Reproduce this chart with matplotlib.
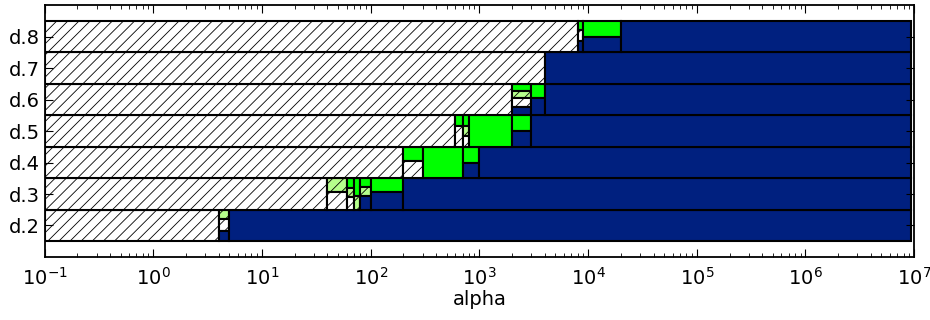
import matplotlib

matplotlib.use("Agg")
import matplotlib.pyplot as plt

# rows of the chart, bottom to top
ROW_LABELS = ["d.2", "d.3", "d.4", "d.5", "d.6", "d.7", "d.8"]
ROW_VALUES = [0.2, 0.3, 0.4, 0.5, 0.6, 0.7, 0.8]

X_START = 0.1
X_END = 9.3e6

# alpha boundaries per row (columns lie between consecutive edges)
EDGES = [
    [X_START, 4, 5, X_END],
    [X_START, 40, 60, 70, 80, 100, 200, X_END],
    [X_START, 200, 300, 700, 1000, X_END],
    [X_START, 600, 700, 800, 2000, 3000, X_END],
    [X_START, 2000, 3000, 4000, X_END],
    [X_START, 4000, X_END],
    [X_START, 8000, 9000, 20000, X_END],
]

# share of each column, stacked top -> bottom: green, light green, hatched, navy
GREEN = [
    [0, 0, 0],
    [0, 0, 0.3, 0.55, 0.28, 0.45, 0],
    [0, 0.45, 1, 0.5, 0],
    [0, 0.35, 0.35, 1, 0.5, 0],
    [0, 0.24, 0.46, 0],
    [0, 0],
    [0, 0.3, 0.5, 0],
]
LIGHT = [
    [0, 0.3, 0],
    [0, 0.45, 0.3, 0.45, 0.28, 0, 0],
    [0, 0, 0, 0, 0],
    [0, 0, 0.3, 0, 0, 0],
    [0, 0.22, 0, 0],
    [0, 0],
    [0, 0, 0, 0],
]
WHITE = [
    [1, 0.38, 0],
    [1, 0.55, 0.4, 0, 0, 0, 0],
    [1, 0.55, 0, 0, 0],
    [1, 0.65, 0.35, 0, 0, 0],
    [1, 0.27, 0, 0],
    [1, 0],
    [1, 0.33, 0, 0],
]
NAVY = [
    [0, 0.32, 1],
    [0, 0, 0, 0, 0.44, 0.55, 1],
    [0, 0, 0, 0.5, 1],
    [0, 0, 0, 0, 0.5, 1],
    [0, 0.27, 0.54, 1],
    [0, 1],
    [0, 0.37, 0.5, 1],
]

ROW_H = 0.1
STYLES = [  # (shares, facecolor, hatch) from the top of a column down
    (GREEN, "#00ff00", None),
    (LIGHT, "#b6ff8c", "///"),
    (WHITE, "white", "///"),
    (NAVY, "#00207f", None),
]

plt.rcParams["hatch.linewidth"] = 0.6
fig = plt.figure(figsize=(9.3, 3.2), dpi=100)
ax = fig.add_axes([0.048, 0.197, 0.935, 0.787])

for r, d in enumerate(ROW_VALUES):
    edges = EDGES[r]
    for c in range(len(edges) - 1):
        left, right = edges[c], edges[c + 1]
        top = d + ROW_H / 2
        for shares, color, hatch in STYLES:
            h = shares[r][c] * ROW_H
            if h <= 0:
                continue
            ax.bar(left, h, width=right - left, bottom=top - h, align="edge",
                   color=color, edgecolor="black", linewidth=1.5, hatch=hatch)
            top -= h

ax.set_xscale("log")
ax.set_xlim(0.1, 1e7)
ax.set_ylim(0.1, 0.9)
ax.set_yticks(ROW_VALUES)
ax.set_yticklabels(ROW_LABELS)
ax.set_xlabel("alpha", fontsize=14, labelpad=1)
ax.tick_params(which="both", direction="in", top=True, right=True, labelsize=14)
ax.tick_params(axis="x", which="major", pad=7)
ax.tick_params(which="major", length=6)
ax.tick_params(which="minor", length=3)
for s in ax.spines.values():
    s.set_linewidth(1.3)

fig.savefig("out.png", dpi=100)
